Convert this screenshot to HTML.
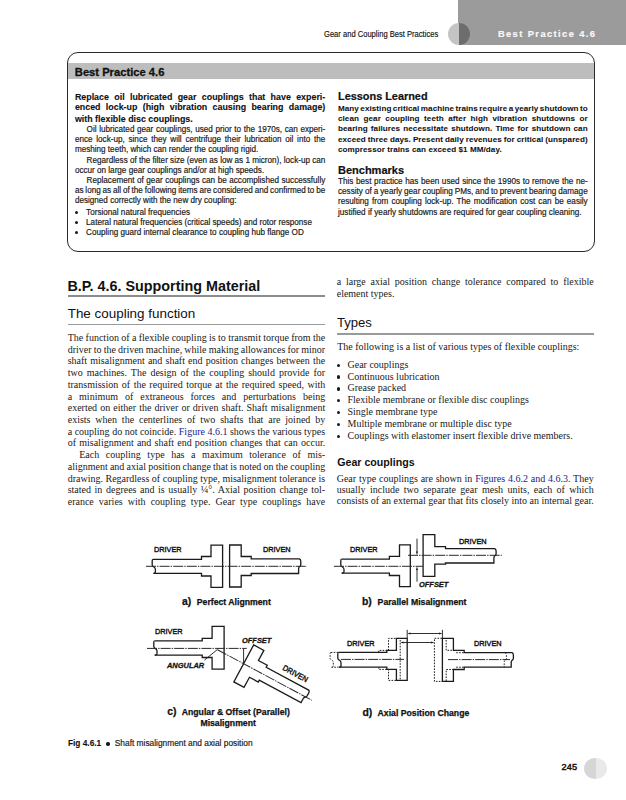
<!DOCTYPE html>
<html><head><meta charset="utf-8"><title>Best Practice 4.6</title>
<style>
html,body{margin:0;padding:0;background:#fff;}
body{width:626px;height:800px;position:relative;overflow:hidden;}
.t{position:absolute;white-space:pre;}
.abs{position:absolute;}
</style></head><body>
<div class="abs" style="left:458px;top:0;width:168px;height:44.5px;background:#9b9b9b"></div>
<div class="abs" style="left:448.0px;top:22.7px;width:22.1px;height:22px;border-radius:50%;background:linear-gradient(90deg,#c4c4c4 50%,#6f6c6e 50%)"></div>
<div class="abs" style="left:67px;top:52px;width:526px;height:198px;border:1.2px solid #2a2a2a;border-radius:11px;"></div>
<div class="abs" style="left:68.2px;top:63.2px;width:525.6px;height:15.6px;background:#bdbdbd"></div>
<div class="abs" style="left:67.5px;top:294.6px;width:257.3px;height:2px;background:#8c8c8c"></div>
<div class="abs" style="left:67.5px;top:323.7px;width:257.3px;height:1.5px;background:#9a9a9a"></div>
<div class="abs" style="left:336.5px;top:333.3px;width:257.3px;height:1.5px;background:#9a9a9a"></div>
<div class="abs" style="left:584.2px;top:757.5px;width:22.5px;height:21.6px;border-radius:50%;background:linear-gradient(90deg,#d6d6d6 50%,#e9e9e9 50%)"></div>
<svg class="abs" style="left:0;top:0" width="626" height="800" viewBox="0 0 626 800">
<g fill="none" stroke="#1a1a1a" stroke-width="1.3" stroke-linejoin="miter">
<!-- a) driver -->
<path d="M152.9,559.3 L201.5,559.3 L201.5,556.5 L211,556.5 L211,545.1 L222.6,545.1 L222.6,587.4 L211,587.4 L211,576 L201.5,576 L201.5,573.4 L153.5,573.4"/>
<path d="M152.9,559.3 Q152.2,559.5 152.2,561 L152.2,565 Q152.2,566.3 153.8,567 Q155.4,567.6 155.4,569.5 L155.4,572 Q155.4,573.4 153.5,573.4"/>
<!-- a) driven -->
<path d="M229.6,545 L241.2,545 L241.2,556.5 L251.2,556.5 L251.2,558.8 L299.4,558.8 Q300.8,559.2 300.8,561.5 L300.8,564.5 Q300.8,566 299.5,566.6 Q298.6,567.3 298.6,569 L298.6,573.5 L251.2,573.5 L251.2,575.5 L241.2,575.5 L241.2,587 L229.6,587 Z"/>
<!-- b) driver -->
<path d="M341.5,559.2 L389.4,559.2 L389.4,556.4 L399.5,556.4 L399.5,544.9 L410.3,544.9 L410.3,586.7 L399.5,586.7 L399.5,575.5 L389.4,575.5 L389.4,573.1 L341.5,573.1"/>
<path d="M341.5,559.2 Q340.8,559.4 340.8,561 L340.8,565 Q340.8,566.3 342.4,567 Q344,567.6 344,569.5 L344,571.8 Q344,573.1 342.1,573.1"/>
<!-- b) driven -->
<path d="M423.1,534.6 L434.8,534.6 L434.8,546.6 L445.5,546.6 L445.5,548.6 L494.7,548.6 Q496.1,549 496.1,551.2 L496.1,553.8 Q496.1,555.2 494.8,555.8 Q493.9,556.4 493.9,558 L493.9,563 L445.5,563 L445.5,564.1 L434.8,564.1 L434.8,576.4 L423.1,576.4 Z"/>
<!-- c) driver -->
<path d="M154.5,640.8 L202.2,640.8 L202.2,638.4 L212.1,638.4 L212.1,626.4 L224.1,626.4 L224.1,669.2 L212.1,669.2 L212.1,657.5 L202.2,657.5 L202.2,655.1 L154.5,655.1"/>
<path d="M154.5,640.8 Q153.8,641 153.8,642.6 L153.8,646.6 Q153.8,647.9 155.4,648.6 Q157,649.2 157,651.1 L157,653.8 Q157,655.1 155.1,655.1"/>
<!-- c) driven rotated -->
<g transform="translate(243.6,663.7) rotate(28.2) translate(-229.6,-566.3)">
<path d="M229.6,545 L241.2,545 L241.2,556.5 L251.2,556.5 L251.2,558.8 L299.4,558.8 Q300.8,559.2 300.8,561.5 L300.8,564.5 Q300.8,566 299.5,566.6 Q298.6,567.3 298.6,569 L298.6,573.5 L251.2,573.5 L251.2,575.5 L241.2,575.5 L241.2,587 L229.6,587 Z"/>
<text x="266.1" y="553.3" textLength="27.6" lengthAdjust="spacingAndGlyphs" font-family="'Liberation Sans', sans-serif" font-size="8" font-weight="normal" fill="#111" stroke="#111" stroke-width="0.4">DRIVEN</text>
</g>
<!-- d) driver solid -->
<path d="M338.5,652.4 L386.8,652.4 L386.8,650.4 L396.4,650.4 L396.4,638.4 L407.2,638.4 L407.2,680.4 L396.4,680.4 L396.4,669.4 L386.8,669.4 L386.8,667.2 L338.5,667.2"/>
<path d="M338.5,652.4 Q337.8,652.6 337.8,654.2 L337.8,658.2 Q337.8,659.5 339.4,660.2 Q341,660.8 341,662.7 L341,665.9 Q341,667.2 339.1,667.2"/>
<!-- d) driven solid -->
<path d="M442.4,638.3 L453.4,638.3 L453.4,650.3 L464.2,650.3 L464.2,652.7 L512,652.7 Q513.4,653.1 513.4,655.3 L513.4,658.3 Q513.4,659.7 512.1,660.3 Q511.2,661 511.2,662.6 L511.2,667.2 L464.2,667.2 L464.2,669.5 L453.4,669.5 L453.4,681.4 L442.4,681.4 Z"/>
<!-- dim lines -->
<path d="M407.2,629.8 L407.2,638.4 M442.4,629.8 L442.4,638.3 M409,633.5 L440.6,633.5 M402,642.5 L432.6,642.5 M417,538.6 L417,552 M417,581.7 L417,569.5 M243.6,648.4 L243.6,663.7 M204.4,660.2 L217.5,649.4" stroke-width="0.9"/>
</g>
<g fill="none" stroke="#1c1c1c" stroke-width="1" stroke-dasharray="1.6 1.3">
<path d="M330.8,652.4 Q330.1,652.6 330.1,654.2 L330.1,658.2 Q330.1,659.5 331.7,660.2 Q333.3,660.8 333.3,662.7 L333.3,665.9 Q333.3,667.2 331.4,667.2 M330.8,652.4 L338,652.4 M331.4,667.2 L338,667.2 M378.8,652.4 L378.8,650.4 L388.5,650.4 L388.5,638.4 L396,638.4 M400.2,640 L400.2,680.4 M396,680.4 L388.5,680.4 L388.5,669.4 L378.8,669.4 L378.8,667.2"/>
<path d="M442,638.3 L434.4,638.3 L434.4,681.4 L442,681.4 M446.2,640 L446.2,650.3 L453,650.3 M446.2,681 L446.2,669.5 L453,669.5 M456.2,652.7 L464,652.7 M456.2,667.2 L464,667.2 M505,652.7 Q506.4,653.1 506.4,655.3 L506.4,658.3 Q506.4,659.7 505.1,660.3 Q504.2,661 504.2,662.6 L504.2,667.2"/>
</g>
<g fill="none" stroke="#2a2a2a" stroke-width="1.0" stroke-dasharray="10 1.1 1.4 1.1">
<path d="M146,566.3 L307,566.3"/>
<path d="M334,566.3 L423,566.3"/>
<path d="M408,555.3 L501.8,555.3"/>
<path d="M147,648.4 L246.8,648.4"/>
<path d="M341,659.4 L404,659.4"/>
<path d="M448,659.6 L510,659.6"/>
<g transform="translate(243.6,663.7) rotate(28.2) translate(-229.6,-566.3)"><path d="M200,566.3 L307,566.3"/></g>
</g>
<g fill="#1c1c1c" stroke="none">
<path d="M407.3,633.5 L410.5,632.4 L410.5,634.6 Z"/>
<path d="M442.3,633.5 L439.1,632.4 L439.1,634.6 Z"/>
<path d="M400.3,642.5 L403.5,641.4 L403.5,643.6 Z"/>
<path d="M434.3,642.5 L431.1,641.4 L431.1,643.6 Z"/>
<path d="M417,555.2 L415.9,551.5 L418.1,551.5 Z"/>
<path d="M417,566.4 L415.9,570 L418.1,570 Z"/>
</g>
</svg>

<div class="t" id="t0" style="left:323.70px;top:30.00px;font-family:'Liberation Sans', sans-serif;font-size:8.6px;line-height:9.608px;font-weight:normal;font-style:normal;color:#111;transform:scaleX(0.882);transform-origin:0 0;-webkit-text-stroke:0.15px #111;">Gear and Coupling Best Practices</div>
<div class="t" id="t1" style="left:497.90px;top:29.00px;font-family:'Liberation Sans', sans-serif;font-size:9.3px;line-height:10.390px;font-weight:bold;font-style:normal;color:#f8f8f8;letter-spacing:1.42px;-webkit-text-stroke:0.2px #f8f8f8;">Best Practice 4.6</div>
<div class="t" id="t2" style="left:74.80px;top:66.00px;font-family:'Liberation Sans', sans-serif;font-size:11.2px;line-height:12.512px;font-weight:bold;font-style:normal;color:#111;-webkit-text-stroke:0.3px #111;">Best Practice 4.6</div>
<div class="t" id="t3" style="word-spacing:2.867px;left:74.90px;top:93.00px;font-family:'Liberation Sans', sans-serif;font-size:8.9px;line-height:9.943px;font-weight:bold;font-style:normal;color:#111;-webkit-text-stroke:0.1px #111;">Replace oil lubricated gear couplings that have experi-</div>
<div class="t" id="t4" style="word-spacing:2.856px;left:74.90px;top:103.00px;font-family:'Liberation Sans', sans-serif;font-size:8.9px;line-height:9.943px;font-weight:bold;font-style:normal;color:#111;-webkit-text-stroke:0.1px #111;">enced lock-up (high vibration causing bearing damage)</div>
<div class="t" id="t5" style="left:74.90px;top:115.00px;font-family:'Liberation Sans', sans-serif;font-size:8.9px;line-height:9.943px;font-weight:bold;font-style:normal;color:#111;-webkit-text-stroke:0.1px #111;">with flexible disc couplings.</div>
<div class="t" id="t6" style="word-spacing:0.384px;left:86.60px;top:125.00px;font-family:'Liberation Sans', sans-serif;font-size:8.15px;line-height:9.105px;font-weight:normal;font-style:normal;color:#1a1a1a;-webkit-text-stroke:0.18px #1a1a1a;">Oil lubricated gear couplings, used prior to the 1970s, can experi-</div>
<div class="t" id="t7" style="word-spacing:1.510px;left:74.90px;top:135.00px;font-family:'Liberation Sans', sans-serif;font-size:8.15px;line-height:9.105px;font-weight:normal;font-style:normal;color:#1a1a1a;-webkit-text-stroke:0.18px #1a1a1a;">ence lock-up, since they will centrifuge their lubrication oil into the</div>
<div class="t" id="t8" style="left:74.90px;top:145.00px;font-family:'Liberation Sans', sans-serif;font-size:8.15px;line-height:9.105px;font-weight:normal;font-style:normal;color:#1a1a1a;-webkit-text-stroke:0.18px #1a1a1a;">meshing teeth, which can render the coupling rigid.</div>
<div class="t" id="t9" style="word-spacing:-0.016px;left:86.60px;top:156.00px;font-family:'Liberation Sans', sans-serif;font-size:8.15px;line-height:9.105px;font-weight:normal;font-style:normal;color:#1a1a1a;-webkit-text-stroke:0.18px #1a1a1a;">Regardless of the filter size (even as low as 1 micron), lock-up can</div>
<div class="t" id="t10" style="left:74.90px;top:166.00px;font-family:'Liberation Sans', sans-serif;font-size:8.15px;line-height:9.105px;font-weight:normal;font-style:normal;color:#1a1a1a;-webkit-text-stroke:0.18px #1a1a1a;">occur on large gear couplings and/or at high speeds.</div>
<div class="t" id="t11" style="word-spacing:0.290px;left:86.60px;top:176.00px;font-family:'Liberation Sans', sans-serif;font-size:8.15px;line-height:9.105px;font-weight:normal;font-style:normal;color:#1a1a1a;-webkit-text-stroke:0.18px #1a1a1a;">Replacement of gear couplings can be accomplished successfully</div>
<div class="t" id="t12" style="word-spacing:-0.403px;left:74.90px;top:186.00px;font-family:'Liberation Sans', sans-serif;font-size:8.15px;line-height:9.105px;font-weight:normal;font-style:normal;color:#1a1a1a;-webkit-text-stroke:0.18px #1a1a1a;">as long as all of the following items are considered and confirmed to be</div>
<div class="t" id="t13" style="left:74.90px;top:196.00px;font-family:'Liberation Sans', sans-serif;font-size:8.15px;line-height:9.105px;font-weight:normal;font-style:normal;color:#1a1a1a;-webkit-text-stroke:0.18px #1a1a1a;">designed correctly with the new dry coupling:</div>
<div class="t" id="t14" style="left:86.10px;top:208.00px;font-family:'Liberation Sans', sans-serif;font-size:8.15px;line-height:9.105px;font-weight:normal;font-style:normal;color:#1a1a1a;-webkit-text-stroke:0.18px #1a1a1a;">Torsional natural frequencies</div>
<div class="t" id="t15" style="left:86.10px;top:218.00px;font-family:'Liberation Sans', sans-serif;font-size:8.15px;line-height:9.105px;font-weight:normal;font-style:normal;color:#1a1a1a;-webkit-text-stroke:0.18px #1a1a1a;">Lateral natural frequencies (critical speeds) and rotor response</div>
<div class="t" id="t16" style="left:86.10px;top:228.00px;font-family:'Liberation Sans', sans-serif;font-size:8.15px;line-height:9.105px;font-weight:normal;font-style:normal;color:#1a1a1a;-webkit-text-stroke:0.18px #1a1a1a;">Coupling guard internal clearance to coupling hub flange OD</div>
<div class="t" id="t17" style="left:338.00px;top:90.00px;font-family:'Liberation Sans', sans-serif;font-size:10.9px;line-height:12.177px;font-weight:bold;font-style:normal;color:#111;-webkit-text-stroke:0.2px #111;">Lessons Learned</div>
<div class="t" id="t18" style="word-spacing:-0.882px;left:338.00px;top:104.00px;font-family:'Liberation Sans', sans-serif;font-size:8.1px;line-height:9.049px;font-weight:bold;font-style:normal;color:#111;-webkit-text-stroke:0.05px #111;letter-spacing:0.06px;">Many existing critical machine trains require a yearly shutdown to</div>
<div class="t" id="t19" style="word-spacing:2.212px;left:338.00px;top:114.00px;font-family:'Liberation Sans', sans-serif;font-size:8.1px;line-height:9.049px;font-weight:bold;font-style:normal;color:#111;-webkit-text-stroke:0.05px #111;letter-spacing:0.06px;">clean gear coupling teeth after high vibration shutdowns or</div>
<div class="t" id="t20" style="word-spacing:0.868px;left:338.00px;top:124.00px;font-family:'Liberation Sans', sans-serif;font-size:8.1px;line-height:9.049px;font-weight:bold;font-style:normal;color:#111;-webkit-text-stroke:0.05px #111;letter-spacing:0.06px;">bearing failures necessitate shutdown. Time for shutdown can</div>
<div class="t" id="t21" style="word-spacing:-0.315px;left:338.00px;top:135.00px;font-family:'Liberation Sans', sans-serif;font-size:8.1px;line-height:9.049px;font-weight:bold;font-style:normal;color:#111;-webkit-text-stroke:0.05px #111;letter-spacing:0.06px;">exceed three days. Present daily revenues for critical (unspared)</div>
<div class="t" id="t22" style="left:338.00px;top:145.00px;font-family:'Liberation Sans', sans-serif;font-size:8.1px;line-height:9.049px;font-weight:bold;font-style:normal;color:#111;-webkit-text-stroke:0.05px #111;letter-spacing:0.06px;">compressor trains can exceed $1 MM/day.</div>
<div class="t" id="t23" style="left:338.00px;top:164.00px;font-family:'Liberation Sans', sans-serif;font-size:11.0px;line-height:12.289px;font-weight:bold;font-style:normal;color:#111;-webkit-text-stroke:0.2px #111;">Benchmarks</div>
<div class="t" id="t24" style="word-spacing:0.367px;left:338.00px;top:177.00px;font-family:'Liberation Sans', sans-serif;font-size:8.16px;line-height:9.116px;font-weight:normal;font-style:normal;color:#1a1a1a;-webkit-text-stroke:0.18px #1a1a1a;">This best practice has been used since the 1990s to remove the ne-</div>
<div class="t" id="t25" style="word-spacing:-0.259px;left:338.00px;top:187.00px;font-family:'Liberation Sans', sans-serif;font-size:8.16px;line-height:9.116px;font-weight:normal;font-style:normal;color:#1a1a1a;-webkit-text-stroke:0.18px #1a1a1a;">cessity of a yearly gear coupling PMs, and to prevent bearing damage</div>
<div class="t" id="t26" style="word-spacing:0.861px;left:338.00px;top:197.00px;font-family:'Liberation Sans', sans-serif;font-size:8.16px;line-height:9.116px;font-weight:normal;font-style:normal;color:#1a1a1a;-webkit-text-stroke:0.18px #1a1a1a;">resulting from coupling lock-up. The modification cost can be easily</div>
<div class="t" id="t27" style="left:338.00px;top:208.00px;font-family:'Liberation Sans', sans-serif;font-size:8.16px;line-height:9.116px;font-weight:normal;font-style:normal;color:#1a1a1a;-webkit-text-stroke:0.18px #1a1a1a;">justified if yearly shutdowns are required for gear coupling cleaning.</div>
<div class="t" id="t28" style="left:67.40px;top:278.00px;font-family:'Liberation Sans', sans-serif;font-size:14.37px;line-height:16.054px;font-weight:bold;font-style:normal;color:#111;">B.P. 4.6. Supporting Material</div>
<div class="t" id="t29" style="left:67.70px;top:306.00px;font-family:'Liberation Sans', sans-serif;font-size:13.43px;line-height:15.004px;font-weight:normal;font-style:normal;color:#111;">The coupling function</div>
<div class="t" id="t30" style="word-spacing:-0.146px;left:67.70px;top:332.00px;font-family:'Liberation Serif', serif;font-size:10px;line-height:11.074px;font-weight:normal;font-style:normal;color:#1a1a1a;">The function of a flexible coupling is to transmit torque from the</div>
<div class="t" id="t31" style="word-spacing:-0.332px;left:67.70px;top:344.00px;font-family:'Liberation Serif', serif;font-size:10px;line-height:11.074px;font-weight:normal;font-style:normal;color:#1a1a1a;">driver to the driven machine, while making allowances for minor</div>
<div class="t" id="t32" style="word-spacing:0.666px;left:67.70px;top:355.00px;font-family:'Liberation Serif', serif;font-size:10px;line-height:11.074px;font-weight:normal;font-style:normal;color:#1a1a1a;">shaft misalignment and shaft end position changes between the</div>
<div class="t" id="t33" style="word-spacing:1.536px;left:67.70px;top:367.00px;font-family:'Liberation Serif', serif;font-size:10px;line-height:11.074px;font-weight:normal;font-style:normal;color:#1a1a1a;">two machines. The design of the coupling should provide for</div>
<div class="t" id="t34" style="word-spacing:1.026px;left:67.70px;top:379.00px;font-family:'Liberation Serif', serif;font-size:10px;line-height:11.074px;font-weight:normal;font-style:normal;color:#1a1a1a;">transmission of the required torque at the required speed, with</div>
<div class="t" id="t35" style="word-spacing:4.453px;left:67.70px;top:391.00px;font-family:'Liberation Serif', serif;font-size:10px;line-height:11.074px;font-weight:normal;font-style:normal;color:#1a1a1a;">a minimum of extraneous forces and perturbations being</div>
<div class="t" id="t36" style="word-spacing:0.594px;left:67.70px;top:402.00px;font-family:'Liberation Serif', serif;font-size:10px;line-height:11.074px;font-weight:normal;font-style:normal;color:#1a1a1a;">exerted on either the driver or driven shaft. Shaft misalignment</div>
<div class="t" id="t37" style="word-spacing:2.367px;left:67.70px;top:414.00px;font-family:'Liberation Serif', serif;font-size:10px;line-height:11.074px;font-weight:normal;font-style:normal;color:#1a1a1a;">exists when the centerlines of two shafts that are joined by</div>
<div class="t" id="t38" style="word-spacing:0.002px;left:67.70px;top:426.00px;font-family:'Liberation Serif', serif;font-size:10px;line-height:11.074px;font-weight:normal;font-style:normal;color:#1a1a1a;">a coupling do not coincide. <span style="color:#22228a">Figure 4.6.1</span> shows the various types</div>
<div class="t" id="t39" style="word-spacing:0.717px;left:67.70px;top:437.00px;font-family:'Liberation Serif', serif;font-size:10px;line-height:11.074px;font-weight:normal;font-style:normal;color:#1a1a1a;">of misalignment and shaft end position changes that can occur.</div>
<div class="t" id="t40" style="word-spacing:4.090px;left:79.20px;top:449.00px;font-family:'Liberation Serif', serif;font-size:10px;line-height:11.074px;font-weight:normal;font-style:normal;color:#1a1a1a;">Each coupling type has a maximum tolerance of mis-</div>
<div class="t" id="t41" style="word-spacing:-0.300px;left:67.70px;top:461.00px;font-family:'Liberation Serif', serif;font-size:10px;line-height:11.074px;font-weight:normal;font-style:normal;color:#1a1a1a;">alignment and axial position change that is noted on the coupling</div>
<div class="t" id="t42" style="word-spacing:0.009px;left:67.70px;top:473.00px;font-family:'Liberation Serif', serif;font-size:10px;line-height:11.074px;font-weight:normal;font-style:normal;color:#1a1a1a;">drawing. Regardless of coupling type, misalignment tolerance is</div>
<div class="t" id="t43" style="word-spacing:1.077px;left:67.70px;top:484.00px;font-family:'Liberation Serif', serif;font-size:10px;line-height:11.074px;font-weight:normal;font-style:normal;color:#1a1a1a;">stated in degrees and is usually ¼°. Axial position change tol-</div>
<div class="t" id="t44" style="word-spacing:2.578px;left:67.70px;top:496.00px;font-family:'Liberation Serif', serif;font-size:10px;line-height:11.074px;font-weight:normal;font-style:normal;color:#1a1a1a;">erance varies with coupling type. Gear type couplings have</div>
<div class="t" id="t45" style="word-spacing:2.299px;left:336.70px;top:276.00px;font-family:'Liberation Serif', serif;font-size:10px;line-height:11.074px;font-weight:normal;font-style:normal;color:#1a1a1a;">a large axial position change tolerance compared to flexible</div>
<div class="t" id="t46" style="left:336.70px;top:288.00px;font-family:'Liberation Serif', serif;font-size:10px;line-height:11.074px;font-weight:normal;font-style:normal;color:#1a1a1a;">element types.</div>
<div class="t" id="t47" style="left:336.90px;top:316.00px;font-family:'Liberation Sans', sans-serif;font-size:13.1px;line-height:14.635px;font-weight:normal;font-style:normal;color:#111;">Types</div>
<div class="t" id="t48" style="left:337.20px;top:341.00px;font-family:'Liberation Serif', serif;font-size:10px;line-height:11.074px;font-weight:normal;font-style:normal;color:#1a1a1a;">The following is a list of various types of flexible couplings:</div>
<div class="t" id="t49" style="left:347.50px;top:359.00px;font-family:'Liberation Serif', serif;font-size:10px;line-height:11.074px;font-weight:normal;font-style:normal;color:#1a1a1a;">Gear couplings</div>
<div class="t" id="t50" style="left:347.50px;top:371.00px;font-family:'Liberation Serif', serif;font-size:10px;line-height:11.074px;font-weight:normal;font-style:normal;color:#1a1a1a;">Continuous lubrication</div>
<div class="t" id="t51" style="left:347.50px;top:382.00px;font-family:'Liberation Serif', serif;font-size:10px;line-height:11.074px;font-weight:normal;font-style:normal;color:#1a1a1a;">Grease packed</div>
<div class="t" id="t52" style="left:347.50px;top:394.00px;font-family:'Liberation Serif', serif;font-size:10px;line-height:11.074px;font-weight:normal;font-style:normal;color:#1a1a1a;">Flexible membrane or flexible disc couplings</div>
<div class="t" id="t53" style="left:347.50px;top:406.00px;font-family:'Liberation Serif', serif;font-size:10px;line-height:11.074px;font-weight:normal;font-style:normal;color:#1a1a1a;">Single membrane type</div>
<div class="t" id="t54" style="left:347.50px;top:418.00px;font-family:'Liberation Serif', serif;font-size:10px;line-height:11.074px;font-weight:normal;font-style:normal;color:#1a1a1a;">Multiple membrane or multiple disc type</div>
<div class="t" id="t55" style="left:347.50px;top:430.00px;font-family:'Liberation Serif', serif;font-size:10px;line-height:11.074px;font-weight:normal;font-style:normal;color:#1a1a1a;">Couplings with elastomer insert flexible drive members.</div>
<div class="t" id="t56" style="left:337.20px;top:457.00px;font-family:'Liberation Sans', sans-serif;font-size:10.65px;line-height:11.898px;font-weight:bold;font-style:normal;color:#111;">Gear couplings</div>
<div class="t" id="t57" style="word-spacing:0.303px;left:336.70px;top:473.00px;font-family:'Liberation Serif', serif;font-size:10px;line-height:11.074px;font-weight:normal;font-style:normal;color:#1a1a1a;">Gear type couplings are shown in <span style="color:#22228a">Figures 4.6.2 and 4.6.3</span>. They</div>
<div class="t" id="t58" style="word-spacing:1.898px;left:336.70px;top:484.00px;font-family:'Liberation Serif', serif;font-size:10px;line-height:11.074px;font-weight:normal;font-style:normal;color:#1a1a1a;">usually include two separate gear mesh units, each of which</div>
<div class="t" id="t59" style="word-spacing:-0.013px;left:336.70px;top:495.00px;font-family:'Liberation Serif', serif;font-size:10px;line-height:11.074px;font-weight:normal;font-style:normal;color:#1a1a1a;">consists of an external gear that fits closely into an internal gear.</div>
<div class="t" id="t60" style="left:154.00px;top:546.00px;font-family:'Liberation Sans', sans-serif;font-size:8.0px;line-height:8.938px;font-weight:normal;font-style:normal;color:#111;-webkit-text-stroke:0.4px #111;transform:scaleX(0.915);transform-origin:0 0;">DRIVER</div>
<div class="t" id="t61" style="left:262.80px;top:546.00px;font-family:'Liberation Sans', sans-serif;font-size:8.0px;line-height:8.938px;font-weight:normal;font-style:normal;color:#111;-webkit-text-stroke:0.4px #111;transform:scaleX(0.915);transform-origin:0 0;">DRIVEN</div>
<div class="t" id="t62" style="left:350.00px;top:546.00px;font-family:'Liberation Sans', sans-serif;font-size:8.0px;line-height:8.938px;font-weight:normal;font-style:normal;color:#111;-webkit-text-stroke:0.4px #111;transform:scaleX(0.915);transform-origin:0 0;">DRIVER</div>
<div class="t" id="t63" style="left:458.70px;top:538.00px;font-family:'Liberation Sans', sans-serif;font-size:8.0px;line-height:8.938px;font-weight:normal;font-style:normal;color:#111;-webkit-text-stroke:0.4px #111;transform:scaleX(0.915);transform-origin:0 0;">DRIVEN</div>
<div class="t" id="t64" style="left:418.80px;top:581.00px;font-family:'Liberation Sans', sans-serif;font-size:8.0px;line-height:8.938px;font-weight:bold;font-style:italic;color:#111;-webkit-text-stroke:0.3px #111;transform:scaleX(0.93);transform-origin:0 0;">OFFSET</div>
<div class="t" id="t65" style="left:155.40px;top:628.00px;font-family:'Liberation Sans', sans-serif;font-size:8.0px;line-height:8.938px;font-weight:normal;font-style:normal;color:#111;-webkit-text-stroke:0.4px #111;transform:scaleX(0.915);transform-origin:0 0;">DRIVER</div>
<div class="t" id="t66" style="left:242.00px;top:637.00px;font-family:'Liberation Sans', sans-serif;font-size:8.0px;line-height:8.938px;font-weight:bold;font-style:italic;color:#111;-webkit-text-stroke:0.3px #111;transform:scaleX(0.93);transform-origin:0 0;">OFFSET</div>
<div class="t" id="t67" style="left:166.60px;top:662.00px;font-family:'Liberation Sans', sans-serif;font-size:8.0px;line-height:8.938px;font-weight:bold;font-style:italic;color:#111;-webkit-text-stroke:0.3px #111;transform:scaleX(0.93);transform-origin:0 0;">ANGULAR</div>
<div class="t" id="t68" style="left:346.60px;top:640.00px;font-family:'Liberation Sans', sans-serif;font-size:8.0px;line-height:8.938px;font-weight:normal;font-style:normal;color:#111;-webkit-text-stroke:0.4px #111;transform:scaleX(0.915);transform-origin:0 0;">DRIVER</div>
<div class="t" id="t69" style="left:474.40px;top:640.00px;font-family:'Liberation Sans', sans-serif;font-size:8.0px;line-height:8.938px;font-weight:normal;font-style:normal;color:#111;-webkit-text-stroke:0.4px #111;transform:scaleX(0.915);transform-origin:0 0;">DRIVEN</div>
<div class="t" id="t70" style="left:182.00px;top:596.00px;font-family:'Liberation Sans', sans-serif;font-size:10.4px;line-height:11.619px;font-weight:bold;font-style:normal;color:#111;-webkit-text-stroke:0.25px #111;">a)</div>
<div class="t" id="t71" style="left:196.80px;top:598.00px;font-family:'Liberation Sans', sans-serif;font-size:8.7px;line-height:9.720px;font-weight:bold;font-style:normal;color:#111;-webkit-text-stroke:0.25px #111;">Perfect Alignment</div>
<div class="t" id="t72" style="left:362.00px;top:596.00px;font-family:'Liberation Sans', sans-serif;font-size:10.4px;line-height:11.619px;font-weight:bold;font-style:normal;color:#111;-webkit-text-stroke:0.25px #111;">b)</div>
<div class="t" id="t73" style="left:377.60px;top:598.00px;font-family:'Liberation Sans', sans-serif;font-size:8.7px;line-height:9.720px;font-weight:bold;font-style:normal;color:#111;-webkit-text-stroke:0.25px #111;">Parallel Misalignment</div>
<div class="t" id="t74" style="left:167.20px;top:706.00px;font-family:'Liberation Sans', sans-serif;font-size:10.4px;line-height:11.619px;font-weight:bold;font-style:normal;color:#111;-webkit-text-stroke:0.25px #111;">c)</div>
<div class="t" id="t75" style="left:181.70px;top:708.00px;font-family:'Liberation Sans', sans-serif;font-size:8.7px;line-height:9.720px;font-weight:bold;font-style:normal;color:#111;-webkit-text-stroke:0.25px #111;">Angular &amp; Offset (Parallel)</div>
<div class="t" id="t76" style="left:200.40px;top:719.00px;font-family:'Liberation Sans', sans-serif;font-size:8.7px;line-height:9.720px;font-weight:bold;font-style:normal;color:#111;-webkit-text-stroke:0.25px #111;">Misalignment</div>
<div class="t" id="t77" style="left:362.50px;top:707.00px;font-family:'Liberation Sans', sans-serif;font-size:10.4px;line-height:11.619px;font-weight:bold;font-style:normal;color:#111;-webkit-text-stroke:0.25px #111;">d)</div>
<div class="t" id="t78" style="left:377.60px;top:709.00px;font-family:'Liberation Sans', sans-serif;font-size:8.7px;line-height:9.720px;font-weight:bold;font-style:normal;color:#111;-webkit-text-stroke:0.25px #111;">Axial Position Change</div>
<div class="t" id="t79" style="left:68.00px;top:739.00px;font-family:'Liberation Sans', sans-serif;font-size:8.3px;line-height:9.273px;font-weight:bold;font-style:normal;color:#111;-webkit-text-stroke:0.1px #111;">Fig 4.6.1</div>
<div class="t" id="t80" style="left:114.80px;top:739.00px;font-family:'Liberation Sans', sans-serif;font-size:8.35px;line-height:9.329px;font-weight:normal;font-style:normal;color:#222;-webkit-text-stroke:0.18px #222;">Shaft misalignment and axial position</div>
<div class="t" id="t81" style="left:561.50px;top:762.00px;font-family:'Liberation Sans', sans-serif;font-size:9.2px;line-height:10.278px;font-weight:normal;font-style:normal;color:#111;-webkit-text-stroke:0.45px #111;letter-spacing:0.1px;">245</div>
<div class="abs" style="left:75.00px;top:211.20px;width:3.2px;height:3.2px;border-radius:50%;background:#1a1a1a"></div>
<div class="abs" style="left:75.00px;top:221.20px;width:3.2px;height:3.2px;border-radius:50%;background:#1a1a1a"></div>
<div class="abs" style="left:75.00px;top:231.20px;width:3.2px;height:3.2px;border-radius:50%;background:#1a1a1a"></div>
<div class="abs" style="left:337.05px;top:363.65px;width:3.3px;height:3.3px;border-radius:50%;background:#1a1a1a"></div>
<div class="abs" style="left:337.05px;top:375.48px;width:3.3px;height:3.3px;border-radius:50%;background:#1a1a1a"></div>
<div class="abs" style="left:337.05px;top:387.31px;width:3.3px;height:3.3px;border-radius:50%;background:#1a1a1a"></div>
<div class="abs" style="left:337.05px;top:399.14px;width:3.3px;height:3.3px;border-radius:50%;background:#1a1a1a"></div>
<div class="abs" style="left:337.05px;top:410.97px;width:3.3px;height:3.3px;border-radius:50%;background:#1a1a1a"></div>
<div class="abs" style="left:337.05px;top:422.80px;width:3.3px;height:3.3px;border-radius:50%;background:#1a1a1a"></div>
<div class="abs" style="left:337.05px;top:434.63px;width:3.3px;height:3.3px;border-radius:50%;background:#1a1a1a"></div>
<div class="abs" style="left:106.35px;top:742.35px;width:3.3px;height:3.3px;border-radius:50%;background:#1a1a1a"></div>
</body></html>
